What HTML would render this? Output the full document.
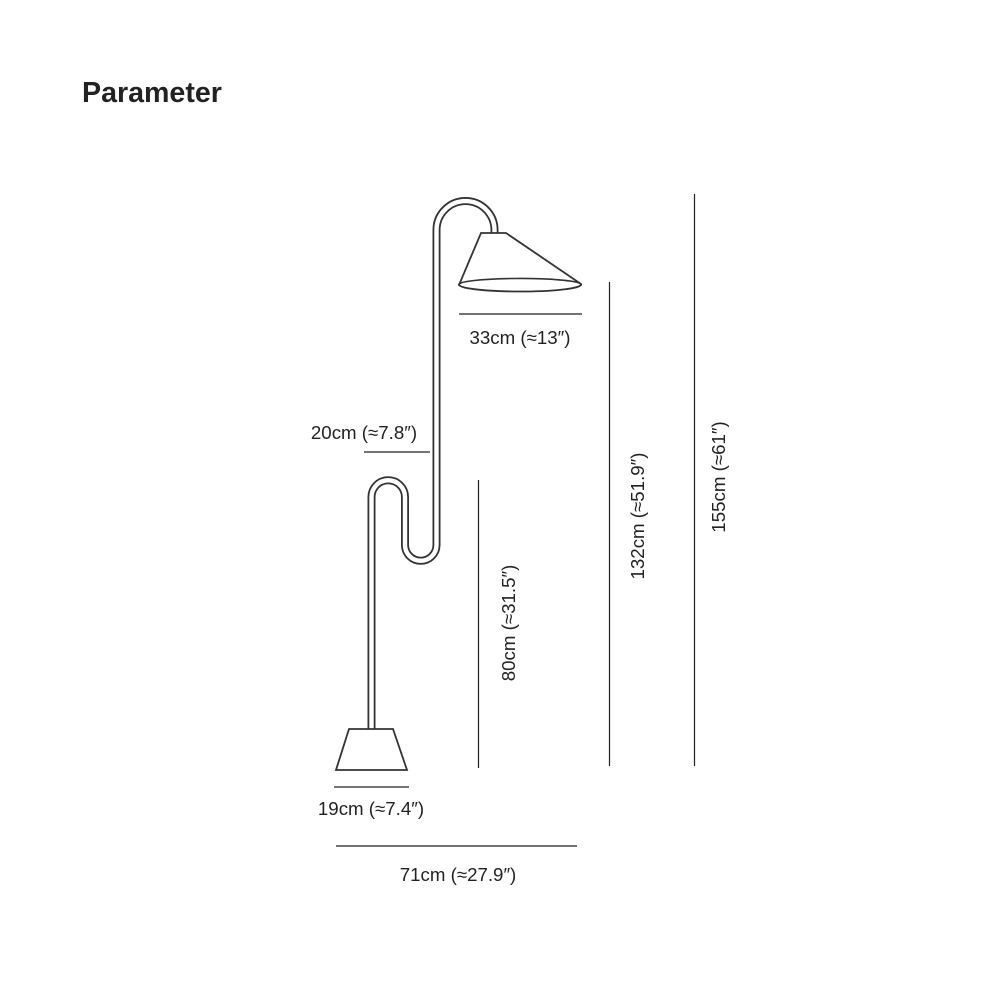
<!DOCTYPE html>
<html><head><meta charset="utf-8"><style>
html,body{margin:0;padding:0;background:#fff;width:1000px;height:1000px;overflow:hidden}
svg{display:block}
text{font-family:"Liberation Sans",Arial,sans-serif;fill:#222}
</style></head><body>
<svg width="1000" height="1000" viewBox="0 0 1000 1000">
<text x="82" y="102" font-size="28.6" font-weight="bold" fill="#111">Parameter</text>
<path d="M371.5 729 V497 A16.75 16.75 0 0 1 405 497 V545 A15.75 15.75 0 0 0 436.5 545 V230 A29 29 0 0 1 494.5 230 V234" fill="none" stroke="#333" stroke-width="8"/>
<path d="M371.5 729 V497 A16.75 16.75 0 0 1 405 497 V545 A15.75 15.75 0 0 0 436.5 545 V230 A29 29 0 0 1 494.5 230 V234" fill="none" stroke="#fff" stroke-width="4.4"/>
<path d="M481 233 H506 L581 284 A61 7 0 0 1 459 285 Z" fill="#fff" stroke="#333" stroke-width="1.8"/>
<path d="M459 285 A61 6 0 0 1 581 284" fill="none" stroke="#333" stroke-width="1.6"/>
<path d="M349 729 H393 L407 770 H336 Z" fill="#fff" stroke="#333" stroke-width="1.8"/>
<g stroke="#222" stroke-width="1.2">
<line x1="459" y1="314" x2="582" y2="314"/>
<line x1="364" y1="452" x2="430" y2="452"/>
<line x1="478.5" y1="480" x2="478.5" y2="768"/>
<line x1="609.5" y1="282" x2="609.5" y2="766"/>
<line x1="694.5" y1="194" x2="694.5" y2="766"/>
<line x1="334" y1="787" x2="409" y2="787"/>
<line x1="336" y1="846" x2="577" y2="846"/>
</g>
<g font-size="18.7">
<text x="520" y="344" text-anchor="middle">33cm (≈13″)</text>
<text x="364" y="439" text-anchor="middle">20cm (≈7.8″)</text>
<text x="371" y="815" text-anchor="middle">19cm (≈7.4″)</text>
<text x="458" y="881" text-anchor="middle">71cm (≈27.9″)</text>
<text transform="translate(515,623) rotate(-90)" text-anchor="middle">80cm (≈31.5″)</text>
<text transform="translate(644,516) rotate(-90)" text-anchor="middle">132cm (≈51.9″)</text>
<text transform="translate(725,477) rotate(-90)" text-anchor="middle">155cm (≈61″)</text>
</g>
</svg>
</body></html>
